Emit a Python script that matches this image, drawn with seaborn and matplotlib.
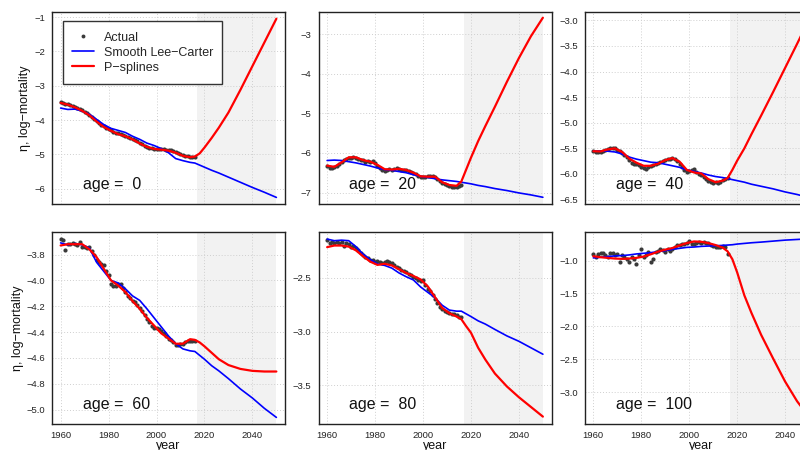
import matplotlib
matplotlib.use("Agg")
import matplotlib.pyplot as plt
import seaborn as sns
import pandas as pd
from matplotlib.lines import Line2D
from matplotlib.ticker import FixedLocator, FuncFormatter

# ---------------- data ----------------
years_obs = list(range(1960, 2017))
years_fit = [1960, 1963, 1966, 1969, 1972, 1975, 1978, 1981, 1984, 1987,
             1990, 1993, 1996, 1999, 2002, 2005, 2008, 2011, 2014, 2016,
             2018, 2020, 2023, 2026, 2030, 2035, 2040, 2045, 2050]
ages = [0, 20, 40, 60, 80, 100]

actual_0 = [-3.47, -3.50, -3.52, -3.54, -3.56, -3.59, -3.62, -3.65, -3.69, -3.72,
            -3.76, -3.80, -3.85, -3.90, -3.96, -4.02, -4.08, -4.13, -4.18, -4.23,
            -4.27, -4.30, -4.35, -4.38, -4.39, -4.41, -4.43, -4.45, -4.48, -4.51,
            -4.54, -4.58, -4.62, -4.66, -4.70, -4.74, -4.77, -4.80, -4.82, -4.84,
            -4.85, -4.85, -4.85, -4.85, -4.86, -4.86, -4.88, -4.90, -4.92, -4.96,
            -4.99, -5.02, -5.04, -5.05, -5.06, -5.06, -5.06]
lc_0 = [-3.65, -3.69, -3.68, -3.74, -3.83, -3.98, -4.13, -4.24, -4.30, -4.36,
        -4.47, -4.56, -4.67, -4.74, -4.83, -4.95, -5.12, -5.18, -5.23, -5.25,
        -5.31, -5.37, -5.46, -5.54, -5.66, -5.81, -5.96, -6.10, -6.25]
ps_0 = [-3.50, -3.55, -3.63, -3.73, -3.86, -4.04, -4.20, -4.31, -4.41, -4.47,
        -4.56, -4.68, -4.78, -4.84, -4.86, -4.89, -4.95, -5.04, -5.08, -5.06,
        -4.97, -4.80, -4.52, -4.22, -3.78, -3.12, -2.43, -1.74, -1.05]

actual_20 = [-6.33, -6.37, -6.38, -6.36, -6.33, -6.27, -6.23, -6.18, -6.15, -6.13,
             -6.12, -6.10, -6.13, -6.14, -6.17, -6.19, -6.22, -6.21, -6.22, -6.21,
             -6.26, -6.32, -6.38, -6.42, -6.45, -6.42, -6.40, -6.43, -6.40, -6.38,
             -6.41, -6.42, -6.43, -6.42, -6.45, -6.47, -6.51, -6.54, -6.58, -6.60,
             -6.62, -6.60, -6.58, -6.57, -6.58, -6.62, -6.66, -6.71, -6.75, -6.79,
             -6.82, -6.84, -6.86, -6.87, -6.85, -6.83, -6.80]
lc_20 = [-6.19, -6.18, -6.19, -6.22, -6.25, -6.29, -6.33, -6.38, -6.42, -6.44,
         -6.47, -6.50, -6.55, -6.59, -6.62, -6.65, -6.68, -6.70, -6.72, -6.74,
         -6.76, -6.78, -6.82, -6.85, -6.90, -6.95, -7.01, -7.06, -7.12]
ps_20 = [-6.32, -6.35, -6.24, -6.11, -6.11, -6.18, -6.22, -6.30, -6.41, -6.42,
         -6.40, -6.43, -6.50, -6.59, -6.60, -6.60, -6.74, -6.81, -6.83, -6.72,
         -6.42, -6.12, -5.70, -5.32, -4.83, -4.20, -3.60, -3.05, -2.58]

actual_40 = [-5.55, -5.57, -5.58, -5.57, -5.55, -5.53, -5.51, -5.50, -5.50, -5.50,
             -5.53, -5.56, -5.60, -5.63, -5.67, -5.72, -5.78, -5.80, -5.80, -5.82,
             -5.86, -5.89, -5.91, -5.87, -5.85, -5.83, -5.80, -5.78, -5.76, -5.74,
             -5.72, -5.71, -5.70, -5.69, -5.70, -5.74, -5.80, -5.86, -5.93, -5.97,
             -5.95, -5.92, -5.90, -5.97, -6.00, -6.01, -6.05, -6.09, -6.13, -6.16,
             -6.17, -6.16, -6.17, -6.15, -6.12, -6.10, -6.07]
lc_40 = [-5.555, -5.55, -5.555, -5.57, -5.61, -5.67, -5.71, -5.74, -5.77, -5.78,
         -5.81, -5.84, -5.87, -5.92, -5.95, -5.98, -6.02, -6.05, -6.07, -6.09,
         -6.11, -6.13, -6.16, -6.20, -6.24, -6.29, -6.35, -6.40, -6.46]
ps_40 = [-5.555, -5.56, -5.52, -5.50, -5.57, -5.70, -5.78, -5.84, -5.84, -5.80,
         -5.73, -5.69, -5.76, -5.92, -5.97, -5.99, -6.10, -6.16, -6.13, -6.08,
         -5.92, -5.74, -5.50, -5.22, -4.86, -4.40, -3.93, -3.46, -2.98]

actual_60 = [-3.68, -3.69, -3.765, -3.72, -3.72, -3.71, -3.72, -3.73, -3.70, -3.74,
             -3.74, -3.75, -3.74, -3.77, -3.80, -3.84, -3.86, -3.87, -3.88, -3.93,
             -3.96, -4.03, -4.04, -4.04, -4.03, -4.03, -4.06, -4.09, -4.12, -4.14,
             -4.16, -4.17, -4.19, -4.21, -4.24, -4.27, -4.30, -4.32, -4.35, -4.365,
             -4.37, -4.375, -4.39, -4.41, -4.43, -4.45, -4.46, -4.48, -4.50, -4.50,
             -4.49, -4.49, -4.48, -4.47, -4.47, -4.47, -4.47]
lc_60 = [-3.71, -3.725, -3.715, -3.725, -3.75, -3.86, -3.93, -4.00, -4.02, -4.065,
         -4.12, -4.155, -4.22, -4.29, -4.36, -4.43, -4.49, -4.53, -4.545, -4.55,
         -4.58, -4.61, -4.66, -4.70, -4.76, -4.84, -4.91, -4.99, -5.06]
ps_60 = [-3.73, -3.72, -3.72, -3.72, -3.76, -3.82, -3.91, -4.00, -4.04, -4.09,
         -4.16, -4.22, -4.29, -4.35, -4.41, -4.45, -4.49, -4.49, -4.455, -4.46,
         -4.48, -4.51, -4.56, -4.61, -4.655, -4.685, -4.70, -4.705, -4.705]

actual_80 = [-2.15, -2.18, -2.17, -2.18, -2.17, -2.18, -2.17, -2.20, -2.18, -2.19,
             -2.21, -2.20, -2.22, -2.24, -2.27, -2.29, -2.31, -2.32, -2.33, -2.33,
             -2.35, -2.34, -2.35, -2.36, -2.35, -2.34, -2.35, -2.36, -2.38, -2.40,
             -2.41, -2.43, -2.44, -2.45, -2.46, -2.47, -2.49, -2.50, -2.52, -2.53,
             -2.52, -2.57, -2.60, -2.62, -2.66, -2.70, -2.73, -2.77, -2.79, -2.81,
             -2.82, -2.83, -2.84, -2.84, -2.85, -2.86, -2.86]
lc_80 = [-2.14, -2.155, -2.15, -2.155, -2.21, -2.28, -2.33, -2.37, -2.385, -2.41,
         -2.455, -2.49, -2.52, -2.585, -2.635, -2.685, -2.755, -2.80, -2.81, -2.81,
         -2.835, -2.86, -2.90, -2.93, -2.98, -3.04, -3.09, -3.15, -3.21]
ps_80 = [-2.215, -2.20, -2.20, -2.21, -2.245, -2.30, -2.35, -2.38, -2.37, -2.385,
         -2.42, -2.455, -2.483, -2.515, -2.58, -2.68, -2.78, -2.83, -2.86, -2.885,
         -2.95, -3.01, -3.15, -3.26, -3.39, -3.51, -3.61, -3.70, -3.79]

actual_100 = [-0.90, -0.95, -0.90, -0.89, -0.88, -0.92, -0.95, -0.88, -0.89, -0.92,
              -0.90, -1.03, -0.92, -0.95, -0.98, -1.02, -0.95, -0.98, -1.05, -0.92,
              -0.82, -0.95, -0.92, -0.87, -1.02, -0.98, -0.87, -0.85, -0.82, -0.84,
              -0.87, -0.82, -0.85, -0.82, -0.79, -0.77, -0.76, -0.75, -0.75, -0.74,
              -0.70, -0.75, -0.75, -0.73, -0.72, -0.73, -0.72, -0.74, -0.73, -0.76,
              -0.78, -0.80, -0.79, -0.80, -0.78, -0.79, -0.90]
lc_100 = [-0.96, -0.95, -0.94, -0.93, -0.925, -0.915, -0.90, -0.89, -0.88, -0.865,
          -0.85, -0.83, -0.815, -0.80, -0.795, -0.785, -0.78, -0.775, -0.77, -0.765,
          -0.76, -0.75, -0.74, -0.73, -0.72, -0.705, -0.69, -0.68, -0.67]
ps_100 = [-0.935, -0.95, -0.96, -0.97, -0.975, -0.97, -0.96, -0.94, -0.905, -0.865,
          -0.835, -0.81, -0.77, -0.735, -0.71, -0.715, -0.735, -0.765, -0.805, -0.86,
          -0.98, -1.18, -1.53, -1.80, -2.13, -2.49, -2.84, -3.14, -3.38]

legend_labels = ["Actual", "Smooth Lee\u2212Carter", "P\u2212splines"]
ylabel_text = "\u03b7, log\u2212mortality"
xlabel_text = "year"
xtick_vals = [1960, 1980, 2000, 2020, 2040]

actual_all = [actual_0, actual_20, actual_40, actual_60, actual_80, actual_100]
lc_all = [lc_0, lc_20, lc_40, lc_60, lc_80, lc_100]
ps_all = [ps_0, ps_20, ps_40, ps_60, ps_80, ps_100]

# ---------------- style ----------------
sns.set_style("white")
plt.rcParams['font.family'] = ['Liberation Sans', 'DejaVu Sans']

C_PTS = "#3a3a3a"
C_LC = "#0000ff"
C_PS = "#ff0000"
C_SHADE = "#f2f2f2"
C_AX = "#222222"

ylims = [(-6.43, -0.863), (-7.28, -2.443), (-6.578, -2.844),
         (-5.108, -3.628), (-3.855, -2.077), (-3.48, -0.571)]
yticks = [[-6, -5, -4, -3, -2, -1],
          [-7, -6, -5, -4, -3],
          [-6.5, -6.0, -5.5, -5.0, -4.5, -4.0, -3.5, -3.0],
          [-5.0, -4.8, -4.6, -4.4, -4.2, -4.0, -3.8],
          [-3.5, -3.0, -2.5],
          [-3.0, -2.5, -2.0, -1.5, -1.0]]
ydec = [0, 0, 1, 1, 1, 1]


def make_fmt(nd):
    def f(v, pos):
        s = f"{v:.{nd}f}"
        return s.replace("-", "\u2212")
    return FuncFormatter(f)


fig = plt.figure(figsize=(8, 4.5), dpi=100)
W, H = 800.0, 450.0
lefts = [52.0, 318.5, 584.7]
tops = [12.3, 232.3]
aw, ah = 233.0, 191.3

for i, age in enumerate(ages):
    r, c = divmod(i, 3)
    ax = fig.add_axes([lefts[c] / W, 1 - (tops[r] + ah) / H, aw / W, ah / H])
    ax.set_axisbelow(True)
    ax.axvspan(2017, 2050, color=C_SHADE, zorder=0, lw=0)
    ax.grid(True, linestyle=(0, (1, 2)), color="#cfcfcf", linewidth=0.7, zorder=0.5)

    sns.scatterplot(x=years_obs, y=actual_all[i], ax=ax, color=C_PTS, s=9,
                    linewidth=0, zorder=3, legend=False)
    sns.lineplot(x=years_fit, y=lc_all[i], ax=ax, color=C_LC, linewidth=1.2,
                 zorder=4, legend=False)
    sns.lineplot(x=years_fit, y=ps_all[i], ax=ax, color=C_PS, linewidth=1.6,
                 zorder=5, legend=False)

    ax.set_xlim(1956.4, 2053.6)
    ax.set_ylim(*ylims[i])
    ax.xaxis.set_major_locator(FixedLocator(xtick_vals))
    ax.yaxis.set_major_locator(FixedLocator(yticks[i]))
    ax.yaxis.set_major_formatter(make_fmt(ydec[i]))
    ax.tick_params(axis="both", direction="out", length=3.5, width=0.8,
                   colors=C_AX, labelsize=6.8, pad=1.5)
    ax.tick_params(axis="x", pad=2.0)
    for sp in ax.spines.values():
        sp.set_visible(True)
        sp.set_color(C_AX)
        sp.set_linewidth(1.0)

    ax.set_xlabel("")
    ax.set_ylabel("")
    if r == 0:
        ax.tick_params(axis="x", labelbottom=False)
    else:
        ax.set_xlabel(xlabel_text, fontsize=9, labelpad=0.0, color="#111111")
    if c == 0:
        ax.set_ylabel(ylabel_text, fontsize=9, labelpad=2, color="#111111")

    ax.text(0.133, 0.10, f"age =  {age}", transform=ax.transAxes,
            fontsize=11.5, ha="left", va="center", color="#111111")

    if i == 0:
        handles = [
            Line2D([], [], marker="o", linestyle="None", markersize=2.8,
                   color=C_PTS, markeredgewidth=0),
            Line2D([], [], color=C_LC, linewidth=1.2),
            Line2D([], [], color=C_PS, linewidth=1.6),
        ]
        leg = ax.legend(handles, legend_labels, loc="upper left",
                        bbox_to_anchor=(0.047, 0.955), borderaxespad=0,
                        fontsize=9, frameon=True, fancybox=False,
                        handlelength=1.7, handletextpad=0.8, labelspacing=0.12,
                        handleheight=1.2, borderpad=0.75)
        leg.get_frame().set_edgecolor("#333333")
        leg.get_frame().set_linewidth(1.0)
        leg.get_frame().set_alpha(1)
        leg.set_zorder(10)

fig.savefig("out.png", dpi=100)
